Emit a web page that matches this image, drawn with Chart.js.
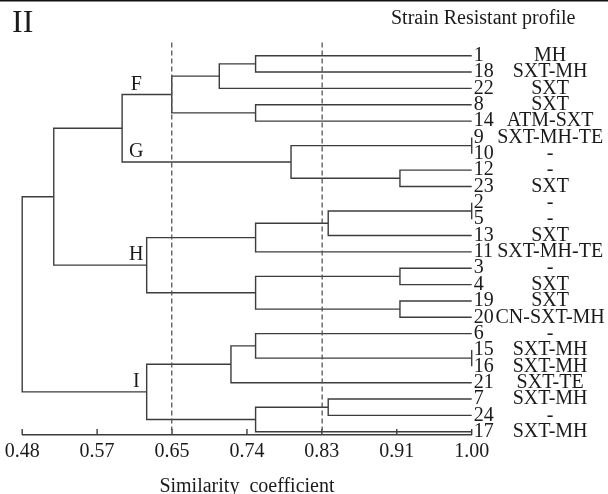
<!DOCTYPE html>
<html>
<head>
<meta charset="utf-8">
<script src="https://cdn.jsdelivr.net/npm/chart.js@4.4.1/dist/chart.umd.min.js"></script>
<style>
  html, body { margin: 0; padding: 0; background: #fff; }
</style>
</head>
<body>
<canvas id="dendro" width="608" height="494"></canvas>
<script>
// leaves, top to bottom
const leafIds = ['1', '18', '22', '8', '14', '9', '10', '12', '23', '2', '5', '13',
                 '11', '3', '4', '19', '20', '6', '15', '16', '21', '7', '24', '17'];
const profiles = ['MH', 'SXT-MH', 'SXT', 'SXT', 'ATM-SXT', 'SXT-MH-TE', '-', '-', 'SXT', '-', '-', 'SXT',
                  'SXT-MH-TE', '-', 'SXT', 'SXT', 'CN-SXT-MH', '-', 'SXT-MH', 'SXT-MH', 'SXT-TE', 'SXT-MH', '-', 'SXT-MH'];

// [nodeA, nodeB, similarity]; 0-23 are leaves, every merge makes node 24, 25, ...
const merges = [
  [5, 6, 1.00],     // 24: 9-10
  [9, 10, 1.00],    // 25: 2-5
  [18, 19, 1.00],   // 26: 15-16
  [7, 8, 0.917],    // 27: 12-23
  [13, 14, 0.917],  // 28: 3-4
  [15, 16, 0.917],  // 29: 19-20
  [25, 11, 0.834],  // 30
  [21, 22, 0.834],  // 31: 7-24
  [24, 27, 0.791],  // 32: G
  [0, 1, 0.75],     // 33: 1-18
  [3, 4, 0.75],     // 34: 8-14
  [30, 12, 0.75],   // 35
  [28, 29, 0.75],   // 36
  [17, 26, 0.75],   // 37
  [31, 23, 0.75],   // 38
  [37, 20, 0.7215], // 39
  [33, 2, 0.708],   // 40
  [40, 34, 0.653],  // 41: F
  [35, 36, 0.624],  // 42: H
  [39, 38, 0.624],  // 43: I
  [41, 32, 0.5956], // 44
  [44, 42, 0.5165], // 45
  [45, 43, 0.48]    // 46: root
];

const cutoffs = [0.653, 0.827];
const tickLabels = ['0.48', '0.57', '0.65', '0.74', '0.83', '0.91', '1.00'];
const clusterNames = ['F', 'G', 'H', 'I'];
const clusterMerges = [17, 8, 18, 19];

const xMin = 0.48, xMax = 1.00;
const serif = '"Liberation Serif", "Times New Roman", serif';
const lineColor = '#3c3c3c';
const textColor = '#1a1a1a';

// node positions: leaves at similarity 1.00, merged nodes midway between children
const nodeX = leafIds.map(() => 1.0);
const nodeY = leafIds.map((_, i) => i);
const linkSets = merges.map(([a, b, s]) => {
  const set = {
    data: [
      {x: nodeX[a], y: nodeY[a]}, {x: s, y: nodeY[a]},
      {x: s, y: nodeY[b]}, {x: nodeX[b], y: nodeY[b]}
    ],
    borderColor: lineColor, borderWidth: 1.4, pointRadius: 0,
    showLine: true, tension: 0, clip: false
  };
  nodeX.push(s);
  nodeY.push((nodeY[a] + nodeY[b]) / 2);
  return set;
});

const cutSets = cutoffs.map(c => ({
  data: [{x: c, y: -0.8}, {x: c, y: 22.9}],
  borderColor: '#555', borderWidth: 1.3, borderDash: [5, 3],
  pointRadius: 0, showLine: true
}));

const decor = {
  id: 'decor',
  afterDraw(chart) {
    const {ctx, chartArea} = chart;
    const x = chart.scales.x, y = chart.scales.y;
    ctx.save();
    ctx.fillStyle = '#111';
    ctx.fillRect(0, 0, chart.width, 1.5);

    // tick marks point up into the plot
    ctx.strokeStyle = lineColor;
    ctx.lineWidth = 1.4;
    x.ticks.forEach(t => {
      const px = x.getPixelForValue(t.value);
      ctx.beginPath();
      ctx.moveTo(px, chartArea.bottom);
      ctx.lineTo(px, chartArea.bottom - 6);
      ctx.stroke();
    });

    ctx.fillStyle = textColor;
    ctx.textAlign = 'left';
    ctx.textBaseline = 'alphabetic';
    ctx.font = '32px ' + serif;
    ctx.fillText('II', 12, 32);
    ctx.font = '20px ' + serif;
    ctx.fillText('Strain Resistant profile', 391, 24);

    ctx.textAlign = 'center';
    ctx.textBaseline = 'middle';
    clusterNames.forEach((name, k) => {
      const node = leafIds.length + clusterMerges[k];
      ctx.fillText(name, x.getPixelForValue(0.612), y.getPixelForValue(nodeY[node]) - 10);
    });
    ctx.restore();
  }
};

const rowAxis = (labels, width, weight, align, pad) => ({
  type: 'linear',
  position: 'right',
  weight: weight,
  reverse: true,
  min: -0.96,
  max: 23.2,
  afterBuildTicks: s => { s.ticks = labels.map((_, i) => ({value: i})); },
  afterFit: s => { s.width = width; },
  grid: {display: false, drawTicks: false},
  border: {display: false},
  ticks: {
    autoSkip: false,
    crossAlign: align,
    padding: pad,
    color: textColor,
    font: {family: serif, size: 20},
    callback: (v, i) => labels[i]
  }
});

new Chart(document.getElementById('dendro'), {
  type: 'scatter',
  data: {datasets: cutSets.concat(linkSets)},
  options: {
    responsive: false,
    animation: false,
    layout: {padding: {left: 21.7, top: 40, right: 0, bottom: 0}},
    plugins: {legend: {display: false}, tooltip: {enabled: false}},
    scales: {
      x: {
        type: 'linear',
        position: 'bottom',
        min: xMin,
        max: xMax,
        afterBuildTicks: s => {
          s.ticks = tickLabels.map((_, i) => ({value: xMin + i * (xMax - xMin) / (tickLabels.length - 1)}));
        },
        grid: {display: false, drawTicks: false},
        border: {display: true, color: lineColor, width: 1.4},
        ticks: {
          autoSkip: false,
          maxRotation: 0,
          padding: 4.7,
          color: textColor,
          font: {family: serif, size: 20},
          callback: (v, i) => tickLabels[i]
        },
        title: {
          display: true,
          text: 'Similarity  coefficient',
          color: textColor,
          font: {family: serif, size: 20, lineHeight: 1},
          padding: {top: 8.6, bottom: -3}
        }
      },
      y: rowAxis(leafIds, 22.3, 0, 'near', 2),
      yProf: rowAxis(profiles, 114, 1, 'center', 1.5)
    }
  },
  plugins: [decor]
});
</script>
</body>
</html>
